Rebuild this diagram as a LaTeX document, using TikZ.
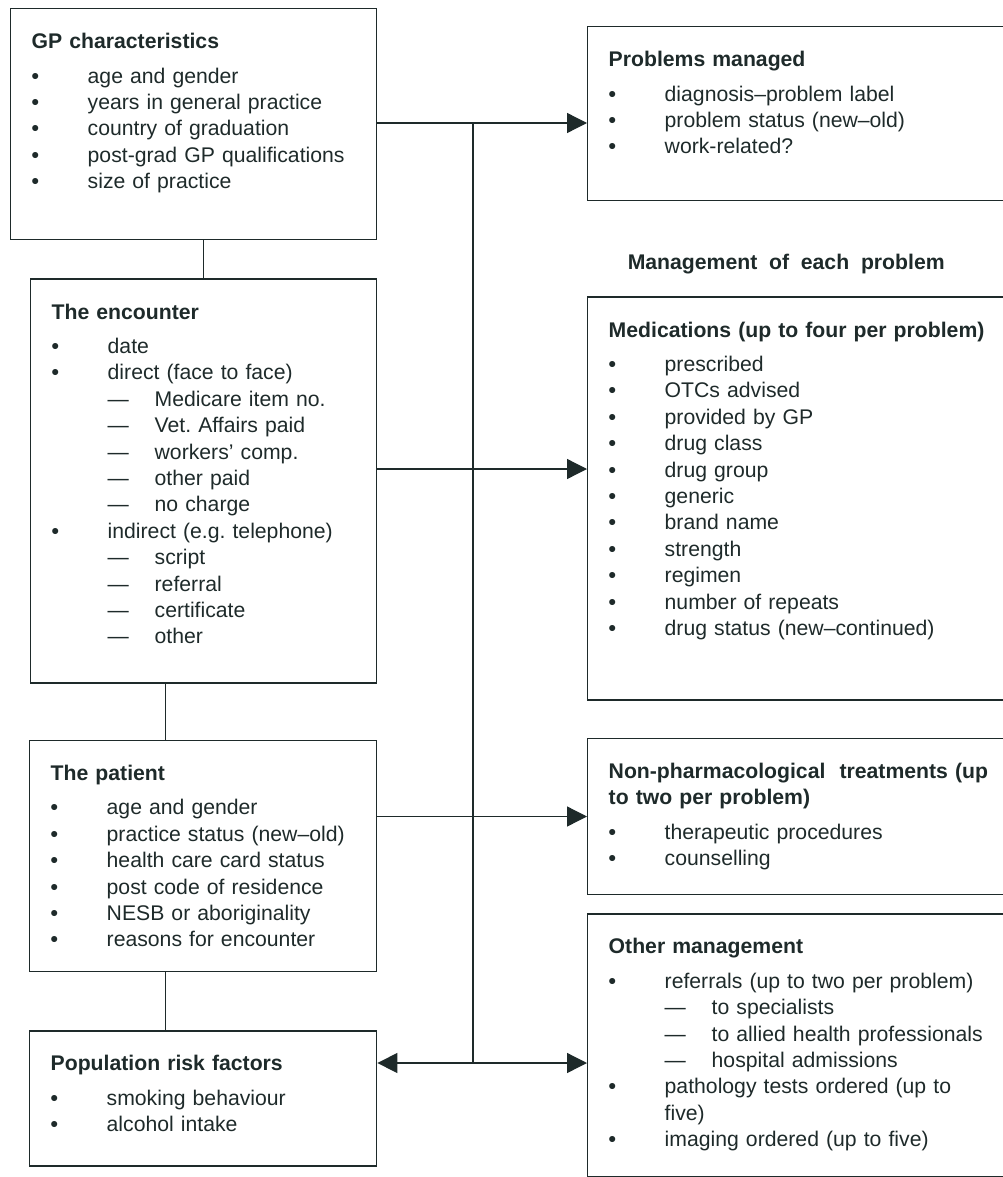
\documentclass[tikz,border=0pt]{standalone}
\usepackage{fontspec}
\setmainfont{Liberation Sans}
\usepackage{tikz}
\usetikzlibrary{arrows.meta,positioning}
\definecolor{ink}{RGB}{30,42,42}
\frenchspacing

\newcommand{\head}[1]{\mbox{\bfseries #1}}
\newcommand{\bul}[1]{\mbox{\makebox[56pt][l]{\textbf{•}}#1}}
\newcommand{\dsh}[1]{\mbox{\hspace*{56pt}\makebox[47pt][l]{—}#1}}
\newcommand{\cnt}[1]{\mbox{\hspace*{56pt}#1}}

\begin{document}
\begin{tikzpicture}[x=1pt,y=-1pt,color=ink,
	panel/.style={draw,line width=1.4pt,inner xsep=21pt,inner ysep=0pt,align=left,text height=40pt,font=\fontsize{21.2pt}{26.4pt}\selectfont},
	link/.style={line width=1.3pt},
	feed/.style={link,-{Triangle[length=20pt,width=20pt]}}]
	\useasboundingbox (0,0) rectangle (1002,1177);
	\node[panel,text width=324pt,text depth=191pt,anchor=north west] (gp) at (10,8) {
		\head{GP characteristics}\\[8pt]
		\bul{age and gender}\\
		\bul{years in general practice}\\
		\bul{country of graduation}\\
		\bul{post-grad GP qualifications}\\
		\bul{size of practice}};
	\node[panel,text width=304pt,text depth=364pt] (enc) [below=38pt of gp.south east,anchor=north east] {
		\head{The encounter}\\[8pt]
		\bul{date}\\
		\bul{direct (face to face)}\\
		\dsh{Medicare item no.}\\
		\dsh{Vet. Affairs paid}\\
		\dsh{workers’ comp.}\\
		\dsh{other paid}\\
		\dsh{no charge}\\
		\bul{indirect (e.g. telephone)}\\
		\dsh{script}\\
		\dsh{referral}\\
		\dsh{certificate}\\
		\dsh{other}};
	\node[panel,text width=305pt,text depth=191pt] (pat) [below=56pt of enc.south east,anchor=north east] {
		\head{The patient}\\[8pt]
		\bul{age and gender}\\
		\bul{practice status (new–old)}\\
		\bul{health care card status}\\
		\bul{post code of residence}\\
		\bul{NESB or aboriginality}\\
		\bul{reasons for encounter}};
	\node[panel,text width=305pt,text depth=95pt] (pop) [below=58pt of pat.south east,anchor=north east] {
		\head{Population risk factors}\\[8pt]
		\bul{smoking behaviour}\\
		\bul{alcohol intake}};
	\node[panel,text width=381pt,text depth=134pt,anchor=north west] (prob) at (587,26) {
		\head{Problems managed}\\[8pt]
		\bul{diagnosis–problem label}\\
		\bul{problem status (new–old)}\\
		\bul{work-related?}};
	\node[panel,text width=381pt,text depth=363pt] (med) [below=95pt of prob.south west,anchor=north west] {
		\head{Medications (up to four per problem)}\\[8pt]
		\bul{prescribed}\\
		\bul{OTCs advised}\\
		\bul{provided by GP}\\
		\bul{drug class}\\
		\bul{drug group}\\
		\bul{generic}\\
		\bul{brand name}\\
		\bul{strength}\\
		\bul{regimen}\\
		\bul{number of repeats}\\
		\bul{drug status (new–continued)}};
	\node[font=\bfseries\fontsize{21.2pt}{26.4pt}\selectfont] (mgmt) [above=27pt of med.north,anchor=base,xshift=-13pt] {Management~ of~ each~ problem};
	\node[panel,text width=381pt,text depth=116pt] (nonph) [below=37pt of med.south west,anchor=north west] {
		\head{Non-pharmacological~ treatments (up}\\
		\head{to two per problem)}\\[8pt]
		\bul{therapeutic procedures}\\
		\bul{counselling}};
	\node[panel,text width=381pt,text depth=223pt] (oth) [below=18pt of nonph.south west,anchor=north west] {
		\head{Other management}\\[8pt]
		\bul{referrals (up to two per problem)}\\
		\dsh{to specialists}\\
		\dsh{to allied health professionals}\\
		\dsh{hospital admissions}\\
		\bul{pathology tests ordered (up to}\\
		\cnt{five)}\\
		\bul{imaging ordered (up to five)}};
	\coordinate (bustop) at (473,123);
	\coordinate (busbot) at (473,1063);
	\coordinate (encrow) at (473,469);
	\draw[link] (gp.south -| enc.north) -- (enc.north);
	\draw[link] ([xshift=-38pt]enc.south) -- ([xshift=-38pt]enc.south |- pat.north);
	\draw[link] ([xshift=-38pt]pat.south) -- ([xshift=-38pt]pat.south |- pop.north);
	\draw[link] (bustop) -- (busbot);
	\draw[feed] (gp.east |- bustop) -- (prob.west |- bustop);
	\draw[feed] (enc.east |- encrow) -- (med.west |- encrow);
	\draw[feed] (pat.east |- nonph.west) -- (nonph.west);
	\draw[feed] (busbot) -- (pop.east |- busbot);
	\draw[feed] (busbot) -- (oth.west |- busbot);
\end{tikzpicture}
\end{document}
